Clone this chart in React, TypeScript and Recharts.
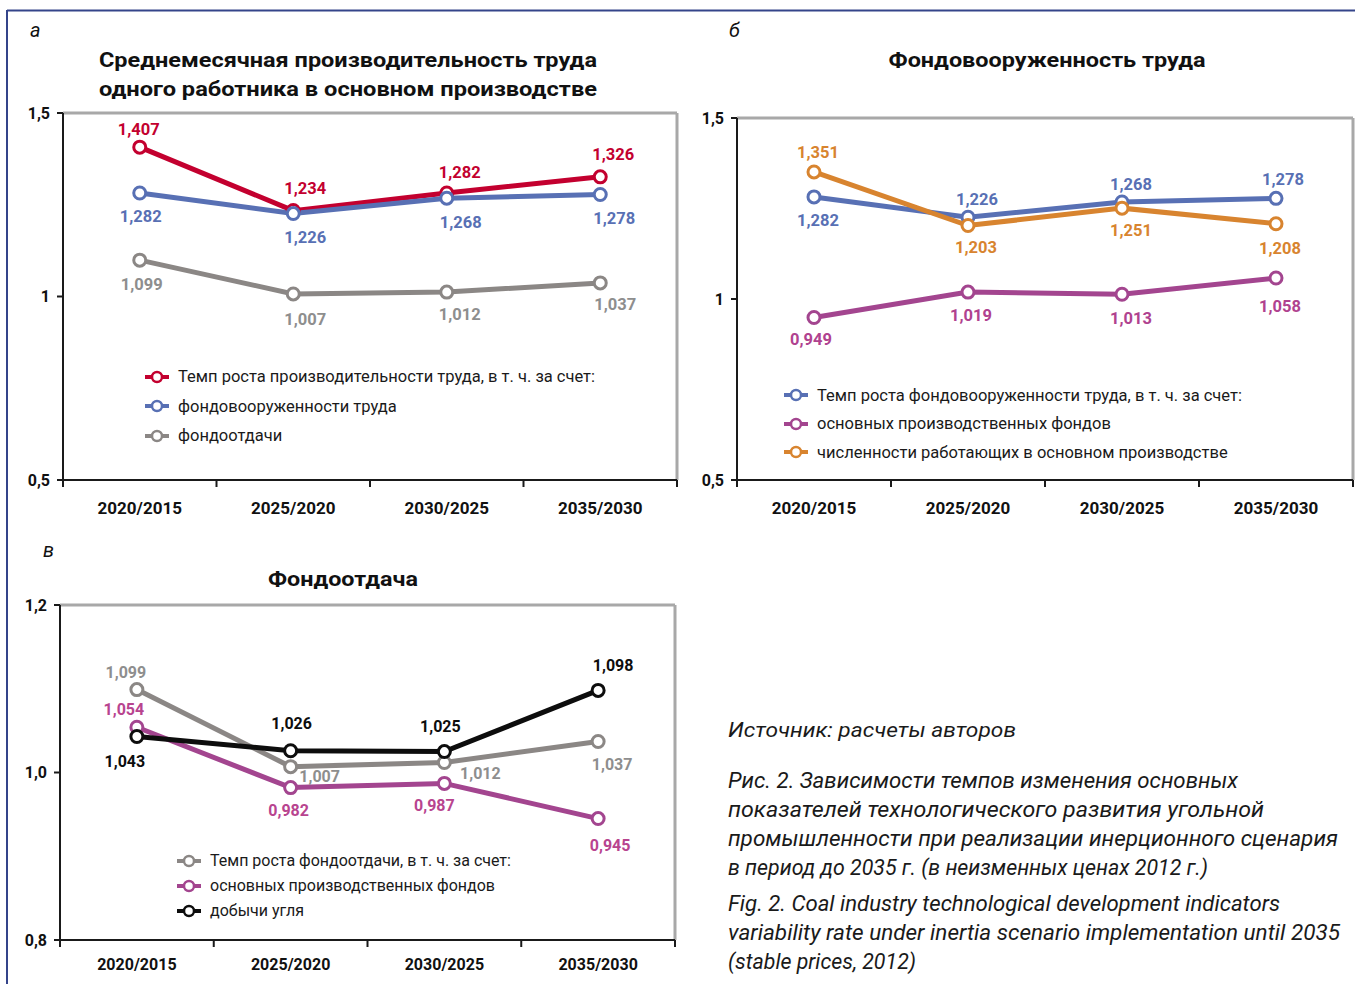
import React from 'react';
import { Legend, Line, LineChart, ReferenceLine, XAxis, YAxis } from 'recharts';

const periods = ['2020/2015', '2025/2020', '2030/2025', '2035/2030'];

// а — labour productivity and its factors
const laborProductivity = [1.407, 1.234, 1.282, 1.326];
const capitalLaborRatio = [1.282, 1.226, 1.268, 1.278];
const capitalProductivity = [1.099, 1.007, 1.012, 1.037];

// б — capital-labour ratio factors
const fixedAssetsB = [0.949, 1.019, 1.013, 1.058];
const employees = [1.351, 1.203, 1.251, 1.208];

// в — capital productivity factors
const fixedAssetsC = [1.054, 0.982, 0.987, 0.945];
const coalOutput = [1.043, 1.026, 1.025, 1.098];

const ticksAB = [0.5, 1, 1.5];
const ticksC = [0.8, 1.0, 1.2];
const bandTicks = [0, 1, 2, 3, 4];

const FONT = 'Roboto, "Open Sans", sans-serif';
const RED = '#c3002f';
const BLUE = '#5870b4';
const GRAY = '#8b8785';
const MAGENTA = '#a3458f';
const ORANGE = '#d8842f';
const BLACK = '#0d0d0d';

type Series = {
  key: string;
  name: string;
  values: number[];
  color: string;
  labelColor: string;
  offsets: [number, number][];
};

const seriesA: Series[] = [
  {
    key: 'lp', name: 'Темп роста производительности труда, в т. ч. за счет:', values: laborProductivity,
    color: RED, labelColor: RED, offsets: [[-1, -18], [12, -22], [13, -21], [13, -22]],
  },
  {
    key: 'clr', name: 'фондовооруженности труда', values: capitalLaborRatio,
    color: BLUE, labelColor: BLUE, offsets: [[1, 23], [12, 24], [14, 24], [14, 24]],
  },
  {
    key: 'cp', name: 'фондоотдачи', values: capitalProductivity,
    color: GRAY, labelColor: '#8e8e8e', offsets: [[2, 24], [12, 26], [13, 22], [15, 22]],
  },
];

const seriesB: Series[] = [
  {
    key: 'clr', name: 'Темп роста фондовооруженности труда, в т. ч. за счет:', values: capitalLaborRatio,
    color: BLUE, labelColor: BLUE, offsets: [[4, 24], [9, -18], [9, -17], [7, -19]],
  },
  {
    key: 'fa', name: 'основных производственных фондов', values: fixedAssetsB,
    color: MAGENTA, labelColor: '#b0428f', offsets: [[-3, 22], [3, 23], [9, 24], [4, 28]],
  },
  {
    key: 'emp', name: 'численности работающих в основном производстве', values: employees,
    color: ORANGE, labelColor: ORANGE, offsets: [[4, -19], [8, 22], [9, 22], [4, 25]],
  },
];

const seriesC: Series[] = [
  {
    key: 'cp', name: 'Темп роста фондоотдачи, в т. ч. за счет:', values: capitalProductivity,
    color: GRAY, labelColor: '#8e8e8e', offsets: [[-11, -17], [29, 10], [36, 11], [14, 23]],
  },
  {
    key: 'fa', name: 'основных производственных фондов', values: fixedAssetsC,
    color: MAGENTA, labelColor: '#b8448f', offsets: [[-13, -18], [-2, 23], [-10, 22], [12, 27]],
  },
  {
    key: 'coal', name: 'добычи угля', values: coalOutput,
    color: BLACK, labelColor: BLACK, offsets: [[-12, 25], [1, -27], [-4, -25], [15, -25]],
  },
];

const fmt3 = (v: number) => v.toFixed(3).replace('.', ',');

function buildRows(series: Series[]) {
  return periods.map((period, i) => {
    // slot = middle of the i-th category band on the boundary axis
    const row: Record<string, string | number> = { period, slot: i + 0.5 };
    series.forEach((s) => {
      row[s.key] = s.values[i];
    });
    return row;
  });
}

const valueLabel = (s: Series, fontSize: number) => (props: any) => {
  const { x, y, value, index } = props;
  const [dx, dy] = s.offsets[index] ?? [0, -18];
  return (
    <text
      x={x + dx}
      y={y + dy}
      textAnchor="middle"
      dominantBaseline="central"
      fill={s.labelColor}
      fontSize={fontSize}
      fontWeight={700}
      fontFamily={FONT}
    >
      {fmt3(value)}
    </text>
  );
};

function LegendBox({ payload, series, rowHeight, fontSize }: any) {
  const order = (e: any) => series.findIndex((s: Series) => s.key === e.dataKey);
  const items = [...(payload ?? [])].sort((a, b) => order(a) - order(b));
  return (
    <div style={{ fontFamily: FONT }}>
      {items.map((e: any) => (
        <div key={e.dataKey} style={{ display: 'flex', alignItems: 'center', height: rowHeight }}>
          <svg width={26} height={14}>
            <line x1={1} y1={7} x2={25} y2={7} stroke={e.color} strokeWidth={4} />
            <circle cx={13} cy={7} r={5} fill="#fff" stroke={e.color} strokeWidth={2.5} />
          </svg>
          <span style={{ marginLeft: 8, fontSize, color: '#1a1a1a', whiteSpace: 'nowrap' }}>{e.value}</span>
        </div>
      ))}
    </div>
  );
}

// tick marks only, no text on the boundary axis
const NoTickText = () => <g />;

type PanelProps = {
  series: Series[];
  left: number;
  top: number;
  width: number;
  height: number;
  margin: { top: number; right: number; left: number; bottom: number };
  yWidth: number;
  yTicks: number[];
  yFormat: (v: number) => string;
  labelAxisHeight: number;
  labelMargin: number;
  legend: { left: number; top: number; rowHeight: number; fontSize: number };
  valueFont: number;
  tickFont: number;
};

function Panel(p: PanelProps) {
  const data = buildRows(p.series);
  const yMin = p.yTicks[0];
  const yMax = p.yTicks[p.yTicks.length - 1];
  // half a category band on each side, like Excel's "between tick marks"
  const halfBand = (p.width - p.margin.left - p.margin.right - p.yWidth) / (periods.length * 2);
  return (
    <div style={{ position: 'absolute', left: p.left, top: p.top, width: p.width, height: p.height }}>
      <LineChart width={p.width} height={p.height} data={data} margin={p.margin}>
        {/* axis 0: the axis line with tick marks between categories (sits next to the plot) */}
        <XAxis
          xAxisId={0}
          dataKey="slot"
          type="number"
          domain={[0, bandTicks.length - 1]}
          ticks={bandTicks}
          interval={0}
          allowDataOverflow
          tick={NoTickText}
          tickSize={7}
          height={8}
          axisLine={{ stroke: '#1a1a1a', strokeWidth: 2 }}
          tickLine={{ stroke: '#1a1a1a', strokeWidth: 2 }}
        />
        {/* axis 1: the category labels, stacked below */}
        <XAxis
          xAxisId={1}
          dataKey="period"
          interval={0}
          padding={{ left: halfBand, right: halfBand }}
          height={p.labelAxisHeight}
          axisLine={false}
          tickLine={false}
          tickSize={0}
          tickMargin={p.labelMargin}
          tick={{ fontSize: p.tickFont, fontWeight: 700, fill: '#111', fontFamily: FONT }}
        />
        <YAxis
          type="number"
          domain={[yMin, yMax]}
          ticks={p.yTicks}
          interval={0}
          width={p.yWidth}
          tickFormatter={p.yFormat}
          tickSize={6}
          tickMargin={7}
          axisLine={{ stroke: '#1a1a1a', strokeWidth: 2 }}
          tickLine={{ stroke: '#1a1a1a', strokeWidth: 2 }}
          tick={{ fontSize: 16, fontWeight: 700, fill: '#111', fontFamily: FONT }}
        />
        <ReferenceLine xAxisId={0} y={yMax} stroke="#a8a8a8" strokeWidth={3} />
        <ReferenceLine xAxisId={0} x={bandTicks.length - 1} stroke="#a8a8a8" strokeWidth={3} />
        {p.series.map((s) => (
          <Line
            key={s.key}
            xAxisId={1}
            dataKey={s.key}
            name={s.name}
            type="linear"
            stroke={s.color}
            strokeWidth={5}
            dot={{ r: 6, fill: '#fff', stroke: s.color, strokeWidth: 3 }}
            activeDot={false}
            label={valueLabel(s, p.valueFont)}
            isAnimationActive={false}
          />
        ))}
        <Legend
          layout="vertical"
          align="center"
          verticalAlign="middle"
          wrapperStyle={{ left: p.legend.left, top: p.legend.top, width: 'auto' }}
          content={(props: any) => (
            <LegendBox
              {...props}
              series={p.series}
              rowHeight={p.legend.rowHeight}
              fontSize={p.legend.fontSize}
            />
          )}
        />
      </LineChart>
    </div>
  );
}

const fmtAB = (v: number) => String(v).replace('.', ',');
const fmtC = (v: number) => v.toFixed(1).replace('.', ',');

const captionLines = [
  { text: 'Рис. 2. Зависимости темпов изменения основных', y: 788, w: 510 },
  { text: 'показателей технологического развития угольной', y: 817, w: 536 },
  { text: 'промышленности при реализации инерционного сценария', y: 846, w: 610 },
  { text: 'в период до 2035 г. (в неизменных ценах 2012 г.)', y: 875, w: 480 },
  { text: 'Fig. 2. Coal industry technological development indicators', y: 911, w: 552 },
  { text: 'variability rate under inertia scenario implementation until 2035', y: 940, w: 612 },
  { text: '(stable prices, 2012)', y: 969, w: 188 },
];

export default function App() {
  return (
    <div style={{ position: 'absolute', left: 0, top: 0, width: 1355, height: 984, background: '#fff', overflow: 'hidden' }}>
      <svg width={1355} height={984} style={{ position: 'absolute', left: 0, top: 0 }} fontFamily={FONT}>
        <line x1={7} y1={10.5} x2={1355} y2={10.5} stroke="#34448a" strokeWidth={2} />
        <line x1={7} y1={10} x2={7} y2={984} stroke="#34448a" strokeWidth={2} />

        <text x={30} y={37} fontSize={20} fontStyle="italic" fill="#111">а</text>
        <text x={348} y={67} textAnchor="middle" fontSize={21} fontWeight={700} fill="#111" textLength={498} lengthAdjust="spacingAndGlyphs">
          Среднемесячная производительность труда
        </text>
        <text x={348} y={96} textAnchor="middle" fontSize={21} fontWeight={700} fill="#111" textLength={498} lengthAdjust="spacingAndGlyphs">
          одного работника в основном производстве
        </text>

        <text x={729} y={37} fontSize={20} fontStyle="italic" fill="#111">б</text>
        <text x={1047} y={67} textAnchor="middle" fontSize={21} fontWeight={700} fill="#111" textLength={317} lengthAdjust="spacingAndGlyphs">
          Фондовооруженность труда
        </text>

        <text x={43} y={557} fontSize={20} fontStyle="italic" fill="#111">в</text>
        <text x={343} y={586} textAnchor="middle" fontSize={21} fontWeight={700} fill="#111" textLength={150} lengthAdjust="spacingAndGlyphs">
          Фондоотдача
        </text>

        <text x={728} y={737} fontSize={21} fontStyle="italic" fill="#1a1a1a" textLength={288} lengthAdjust="spacingAndGlyphs">
          Источник: расчеты авторов
        </text>
        {captionLines.map((l) => (
          <text key={l.y} x={728} y={l.y} fontSize={22} fontStyle="italic" fill="#1a1a1a" textLength={l.w} lengthAdjust="spacingAndGlyphs">
            {l.text}
          </text>
        ))}
      </svg>

      <Panel
        series={seriesA}
        left={0}
        top={100}
        width={690}
        height={430}
        margin={{ top: 13, right: 13, left: 0, bottom: 0 }}
        yWidth={63}
        yTicks={ticksAB}
        yFormat={fmtAB}
        labelAxisHeight={42}
        labelMargin={14}
        legend={{ left: 144, top: 262, rowHeight: 29.5, fontSize: 16.5 }}
        valueFont={16.5}
        tickFont={17}
      />
      <Panel
        series={seriesB}
        left={680}
        top={100}
        width={675}
        height={430}
        margin={{ top: 18, right: 2, left: 0, bottom: 0 }}
        yWidth={57}
        yTicks={ticksAB}
        yFormat={fmtAB}
        labelAxisHeight={42}
        labelMargin={14}
        legend={{ left: 103, top: 281, rowHeight: 28.5, fontSize: 16.5 }}
        valueFont={16.5}
        tickFont={17}
      />
      <Panel
        series={seriesC}
        left={0}
        top={590}
        width={690}
        height={394}
        margin={{ top: 15, right: 15, left: 0, bottom: 0 }}
        yWidth={60}
        yTicks={ticksC}
        yFormat={fmtC}
        labelAxisHeight={36}
        labelMargin={11}
        legend={{ left: 176, top: 258, rowHeight: 25, fontSize: 16 }}
        valueFont={16}
        tickFont={16}
      />
    </div>
  );
}
